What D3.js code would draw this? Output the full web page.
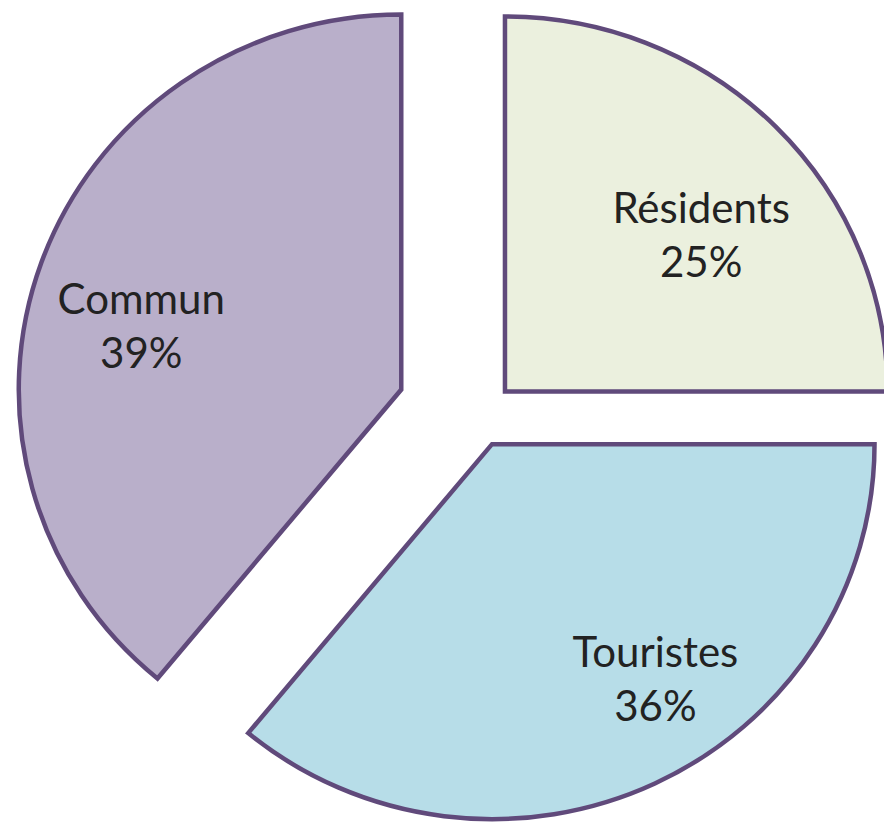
<!DOCTYPE html>
<html>
<head>
<meta charset="utf-8">
<script src="https://cdn.jsdelivr.net/npm/d3@7"></script>
<style>
  body { margin: 0; background: #fff; }
  svg { display: block; }
</style>
</head>
<body>
<div id="chart"></div>
<script>
var w = 884,
h = 822;

// Data
var categories = ["Résidents", "Touristes", "Commun"];
var values = [25, 36, 39];

// Look
var colors = ["#ebf0de", "#b7dde8", "#b9afca"];
var explode = [36, 30, 81];        // per slice pull-out, px
var labelShift = [6, -9, -6];      // degrees off the bisector
var labelRadius = [0.66, 0.76, 0.70];

var r = 375, sx = 1.02;
var cx = 479, cy = 417;

var svg = d3.select("#chart").append("svg")
  .attr("width", w)
  .attr("height", h);

var pie = d3.pie().sort(null).value(function(d){ return d; });
var arcs = pie(values);

var arc = d3.arc().innerRadius(0).outerRadius(r);

var g = svg.append("g")
  .attr("transform", "translate(" + cx + "," + cy + ") scale(" + sx + ",1)");

function offset(d, i) {
  var a = (d.startAngle + d.endAngle) / 2;
  return [Math.sin(a) * explode[i], -Math.cos(a) * explode[i]];
}

g.selectAll("path")
  .data(arcs)
  .enter()
  .append("path")
  .attr("transform", function(d, i){ var o = offset(d, i); return "translate(" + o[0] + "," + o[1] + ")"; })
  .attr("d", arc)
  .attr("fill", function(d, i){ return colors[i]; })
  .attr("stroke", "#604a7b")
  .attr("stroke-width", 4.5)
  .attr("stroke-linejoin", "miter")
  .attr("vector-effect", "non-scaling-stroke");

// Labels (kept outside the scaled group so text is not stretched)
var labels = svg.selectAll("g.label")
  .data(arcs)
  .enter()
  .append("g")
  .attr("class", "label")
  .attr("transform", function(d, i){
    var o = offset(d, i);
    var a = (d.startAngle + d.endAngle) / 2 + labelShift[i] * Math.PI / 180;
    var lr = labelRadius[i] * r;
    var x = cx + sx * (o[0] + Math.sin(a) * lr);
    var y = cy + o[1] - Math.cos(a) * lr;
    return "translate(" + x + "," + y + ")";
  })
  .attr("font-family", "Lato, 'Open Sans', sans-serif")
  .attr("font-size", "42px")
  .attr("fill", "#222")
  .attr("text-anchor", "middle");

labels.append("text")
  .attr("y", -13)
  .text(function(d, i){ return categories[i]; });

labels.append("text")
  .attr("y", 41)
  .text(function(d){ return d3.format(".0%")(d.data / 100); });
</script>
</body>
</html>
